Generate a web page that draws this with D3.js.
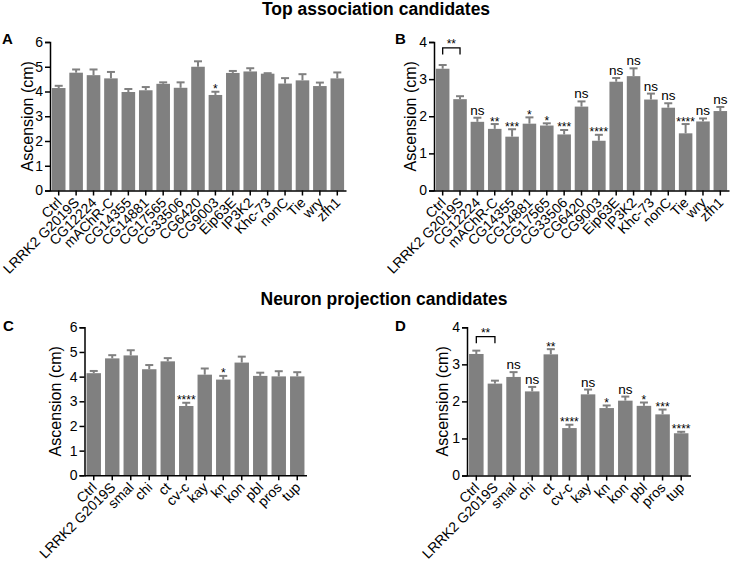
<!DOCTYPE html>
<html>
<head>
<meta charset="utf-8">
<script src="https://cdn.jsdelivr.net/npm/d3@7"></script>
<style>
  body { margin: 0; background: #fff; }
  svg { font-family: "Liberation Sans", Arial, sans-serif; }
</style>
</head>
<body>
<svg id="chart" width="733" height="566"></svg>
<script>
// categories
var topCats = ["Ctrl", "LRRK2 G2019S", "CG12224", "mAChR-C", "CG14355", "CG14881", "CG17565", "CG33506",
  "CG6420", "CG9003", "Eip63E", "IP3K2", "Khc-73", "nonC", "Tie", "wry", "zfh1"];
var neuronCats = ["Ctrl", "LRRK2 G2019S", "smal", "chi", "ct", "cv-c", "kay", "kn", "kon", "pbl", "pros", "tup"];

// panel A
var aMean = [4.14, 4.76, 4.66, 4.53, 3.98, 4.05, 4.31, 4.15, 5.0, 3.86, 4.75, 4.81, 4.72, 4.32, 4.45, 4.22, 4.53];
var aErr  = [0.09, 0.13, 0.23, 0.26, 0.12, 0.13, 0.06, 0.22, 0.22, 0.13, 0.08, 0.13, 0.02, 0.22, 0.25, 0.14, 0.24];
var aSig  = ["", "", "", "", "", "", "", "", "", "*", "", "", "", "", "", "", ""];

// panel B
var bMean = [3.28, 2.46, 1.85, 1.66, 1.45, 1.80, 1.75, 1.51, 2.26, 1.34, 2.93, 3.08, 2.45, 2.23, 1.54, 1.86, 2.14];
var bErr  = [0.10, 0.08, 0.11, 0.13, 0.20, 0.17, 0.06, 0.12, 0.14, 0.16, 0.10, 0.21, 0.16, 0.12, 0.25, 0.08, 0.11];
var bSig  = ["", "", "ns", "**", "***", "*", "*", "***", "ns", "****", "ns", "ns", "ns", "ns", "****", "ns", "ns"];

// panel C
var cMean = [4.14, 4.74, 4.86, 4.30, 4.62, 2.81, 4.08, 3.88, 4.57, 4.03, 4.01, 4.01];
var cErr  = [0.09, 0.13, 0.21, 0.17, 0.13, 0.13, 0.25, 0.15, 0.24, 0.13, 0.21, 0.17];
var cSig  = ["", "", "", "", "", "****", "", "*", "", "", "", ""];

// panel D
var dMean = [3.28, 2.48, 2.66, 2.27, 3.27, 1.28, 2.19, 1.82, 2.02, 1.88, 1.65, 1.14];
var dErr  = [0.09, 0.08, 0.13, 0.12, 0.14, 0.09, 0.13, 0.07, 0.11, 0.09, 0.13, 0.04];
var dSig  = ["", "", "ns", "ns", "**", "****", "ns", "*", "ns", "*", "***", "****"];

var ticks6 = [0, 1, 2, 3, 4, 5, 6];
var ticks4 = [0, 1, 2, 3, 4];

var barColor = "#808080";
var svg = d3.select("#chart");

// titles
svg.append("text").attr("x", 376).attr("y", 15).attr("text-anchor", "middle")
  .attr("font-size", 17.5).attr("font-weight", "bold").text("Top association candidates");
svg.append("text").attr("x", 384).attr("y", 305).attr("text-anchor", "middle")
  .attr("font-size", 17.5).attr("font-weight", "bold").text("Neuron projection candidates");

function drawPanel(p) {
  var g = svg.append("g");

  var x = d3.scaleBand().domain(p.cats).range([p.x0, p.x1]).paddingInner(0.22).paddingOuter(0.11);
  var y = d3.scaleLinear().domain([0, p.ymax]).range([p.y0, p.y1]);

  var rows = p.cats.map(function(c, i) {
    return { cat: c, v: p.mean[i], e: p.err[i], s: p.sig[i] };
  });

  // bars
  g.selectAll("rect.bar").data(rows).enter().append("rect")
    .attr("class", "bar")
    .attr("x", function(d) { return x(d.cat); })
    .attr("width", x.bandwidth())
    .attr("y", function(d) { return y(d.v); })
    .attr("height", function(d) { return y(0) - y(d.v); })
    .attr("fill", barColor);

  // error bars (upper only)
  var cw = 4;
  var eb = g.selectAll("g.err").data(rows).enter().append("g").attr("class", "err")
    .attr("stroke", barColor).attr("stroke-width", 2);
  eb.append("line")
    .attr("x1", function(d) { return x(d.cat) + x.bandwidth() / 2; })
    .attr("x2", function(d) { return x(d.cat) + x.bandwidth() / 2; })
    .attr("y1", function(d) { return y(d.v); })
    .attr("y2", function(d) { return y(d.v + d.e); });
  eb.append("line")
    .attr("x1", function(d) { return x(d.cat) + x.bandwidth() / 2 - cw; })
    .attr("x2", function(d) { return x(d.cat) + x.bandwidth() / 2 + cw; })
    .attr("y1", function(d) { return y(d.v + d.e); })
    .attr("y2", function(d) { return y(d.v + d.e); });

  // significance marks
  g.selectAll("text.sig").data(rows.filter(function(d) { return d.s; })).enter().append("text")
    .attr("class", "sig")
    .attr("x", function(d) { return x(d.cat) + x.bandwidth() / 2; })
    .attr("y", function(d) { return y(d.v + d.e) + (d.s == "ns" ? -3 : 1.5); })
    .attr("text-anchor", "middle")
    .attr("font-size", function(d) { return d.s == "ns" ? 13.5 : 12; })
    .text(function(d) { return d.s; });

  // bracket between Ctrl and LRRK2
  if (p.bracket) {
    var bx1 = x(p.cats[0]) + x.bandwidth() / 2, bx2 = x(p.cats[1]) + x.bandwidth() / 2;
    var by = y(p.bracket.top), bb = y(p.bracket.bottom);
    g.append("path")
      .attr("d", "M" + bx1 + "," + bb + "V" + by + "H" + bx2 + "V" + bb)
      .attr("fill", "none").attr("stroke", "#000").attr("stroke-width", 1.3);
    g.append("text").attr("x", (bx1 + bx2) / 2).attr("y", by + 0.5)
      .attr("text-anchor", "middle").attr("font-size", 12).text("**");
  }

  // axes
  var yAxis = g.append("g").attr("transform", "translate(" + p.x0 + ",0)")
    .call(d3.axisLeft(y).tickValues(p.ticks).tickFormat(d3.format("d")).tickSize(5).tickPadding(2));
  var xAxis = g.append("g").attr("transform", "translate(0," + p.y0 + ")")
    .call(d3.axisBottom(x).tickSize(5).tickSizeOuter(0).tickFormat(""));
  [yAxis, xAxis].forEach(function(a) {
    a.attr("font-family", null);
    a.select(".domain").attr("stroke-width", 1.5);
    a.selectAll(".tick line").attr("stroke-width", 1.5);
    a.selectAll("text").attr("font-size", 14).attr("fill", "#000");
  });

  // rotated category labels
  g.selectAll("text.cat").data(p.cats).enter().append("text")
    .attr("class", "cat")
    .attr("text-anchor", "end")
    .attr("font-size", 14)
    .attr("transform", function(d) {
      return "translate(" + (x(d) + x.bandwidth() / 2 + 4) + "," + (p.y0 + 13) + ") rotate(-45)";
    })
    .text(function(d) { return d; });

  // y title
  g.append("text")
    .attr("transform", "translate(" + (p.x0 + p.titleDx) + "," + ((p.y0 + p.y1) / 2) + ") rotate(-90)")
    .attr("text-anchor", "middle").attr("font-size", 16).text("Ascension (cm)");

  // panel letter
  svg.append("text").attr("x", p.lx).attr("y", p.ly).attr("font-size", 15).attr("font-weight", "bold").text(p.letter);
}

drawPanel({ cats: topCats, mean: aMean, err: aErr, sig: aSig, ymax: 6, ticks: ticks6,
  x0: 50, x1: 346, y0: 190.5, y1: 42, titleDx: -17.5, letter: "A", lx: 2, ly: 44 });
drawPanel({ cats: topCats, mean: bMean, err: bErr, sig: bSig, ymax: 4, ticks: ticks4,
  x0: 434, x1: 729, y0: 190.5, y1: 42, titleDx: -18.5, letter: "B", lx: 395, ly: 44,
  bracket: { top: 3.84, bottom: 3.66 } });
drawPanel({ cats: neuronCats, mean: cMean, err: cErr, sig: cSig, ymax: 6, ticks: ticks6,
  x0: 84.5, x1: 306.5, y0: 475.3, y1: 327.3, titleDx: -24, letter: "C", lx: 3, ly: 331 });
drawPanel({ cats: neuronCats, mean: dMean, err: dErr, sig: dSig, ymax: 4, ticks: ticks4,
  x0: 467, x1: 690.5, y0: 475.5, y1: 327.3, titleDx: -19.5, letter: "D", lx: 395, ly: 331,
  bracket: { top: 3.75, bottom: 3.57 } });
</script>
</body>
</html>
